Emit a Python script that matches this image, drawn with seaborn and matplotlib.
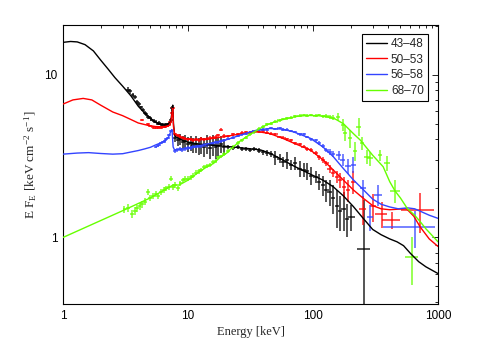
import numpy as np
import pandas as pd
import matplotlib
matplotlib.use("Agg")
import matplotlib.pyplot as plt
import matplotlib.ticker as mticker
import seaborn as sns

# ---- model curves (energy keV, E*F_E) ----
black_model_e = [1.0, 1.15, 1.3, 1.5, 1.75, 2.0, 2.3, 2.6, 3.0, 3.5, 4.0, 4.5, 5.0, 5.5, 6.0, 6.5,
                 7.0, 7.3, 7.45, 7.55, 7.65, 7.8, 8.0, 9.0, 10, 12, 15, 20, 25, 30, 38, 45, 57, 70,
                 95, 120, 145, 175, 210, 250, 300, 350, 410, 470, 530, 600, 700, 800, 1000]
black_model_f = [15.8, 16.0, 15.9, 15.3, 14.0, 12.3, 10.8, 9.6, 8.5, 7.4, 6.4, 5.8, 5.4, 5.1, 4.95, 4.9,
                 4.95, 5.2, 6.0, 6.5, 5.0, 4.3, 4.15, 3.95, 3.85, 3.75, 3.7, 3.63, 3.57, 3.52, 3.45, 3.3, 3.0, 2.75,
                 2.45, 2.25, 2.05, 1.8, 1.55, 1.32, 1.12, 1.04, 0.98, 0.94, 0.89, 0.8, 0.71, 0.66, 0.60]

red_model_e = [1.0, 1.2, 1.45, 1.7, 2.0, 2.5, 3.0, 3.5, 4.0, 4.7, 5.5, 6.5, 7.0, 7.3, 7.45, 7.55, 7.65,
               7.8, 8.0, 9.0, 11, 14, 17, 20, 25, 30, 36, 45, 57, 70, 95, 120, 145, 175, 210, 250,
               300, 350, 410, 470, 560, 640, 720, 850, 1000]
red_model_f = [6.6, 7.0, 7.15, 7.0, 6.5, 5.9, 5.6, 5.3, 5.05, 4.9, 4.8, 4.78, 4.85, 5.1, 5.8, 6.2, 4.8,
               4.35, 4.25, 4.1, 3.97, 4.0, 4.1, 4.17, 4.3, 4.4, 4.47, 4.35, 4.07, 3.8, 3.45, 3.0, 2.6, 2.25, 1.96, 1.75,
               1.57, 1.5, 1.48, 1.49, 1.5, 1.35, 1.16, 0.98, 0.88]

blue_model_e = [1.0, 1.3, 1.6, 2.0, 2.5, 3.0, 3.5, 4.0, 4.5, 5.0, 5.5, 6.0, 6.5, 7.0, 7.3, 7.45, 7.6,
                7.8, 8.5, 10, 12, 15, 20, 25, 30, 36, 45, 57, 70, 95, 120, 145, 175, 210, 250, 300,
                350, 410, 480, 570, 650, 720, 850, 1000]
blue_model_f = [3.25, 3.3, 3.32, 3.28, 3.25, 3.27, 3.35, 3.42, 3.5, 3.58, 3.7, 3.8, 3.92, 4.15, 4.5, 4.6, 3.6,
                3.45, 3.48, 3.55, 3.65, 3.78, 3.97, 4.2, 4.4, 4.58, 4.67, 4.63, 4.45, 4.07, 3.6, 3.14, 2.65, 2.26, 1.98, 1.72,
                1.6, 1.54, 1.5, 1.52, 1.5, 1.45, 1.37, 1.31]

green_model_e = [1.0, 3.0, 5.0, 7.6, 8.5, 10, 12, 14, 16, 18, 20.4, 22, 26, 30, 35.5, 42, 50, 60, 75, 90,
                 110, 130, 150, 175, 210, 240, 300, 364, 411, 455, 500, 570, 650, 720, 800, 1000]
green_model_f = [1.0, 1.46, 1.75, 2.1, 2.1, 2.25, 2.5, 2.7, 2.85, 3.1, 3.3, 3.5, 3.9, 4.2, 4.55, 4.9, 5.15, 5.35, 5.55, 5.62,
                 5.6, 5.5, 5.35, 5.0, 4.35, 3.95, 3.2, 2.72, 2.2, 1.92, 1.75, 1.5, 1.37, 1.25, 1.13, 0.94]

# ---- data points: energy, flux, flux error, bin half-width (fraction of E) ----
black_e = [3.3, 3.45, 3.6, 3.75, 3.9, 4.05, 4.2, 4.35, 4.5, 4.65, 4.8, 4.95, 5.1, 5.3, 5.5, 5.7, 5.9, 6.1, 6.3,
           6.5, 6.7, 6.9, 7.1, 7.3, 7.5,
           7.9, 8.3, 8.7, 9.1, 9.5, 10.0, 10.5, 11.0, 11.6, 12.2, 12.8, 13.5, 14.2, 15.0, 15.8, 16.6, 17.5, 18.5, 19.5,
           21, 23, 25, 27, 29, 31.5, 34, 37, 40, 43, 46, 50, 54, 58, 62, 67, 72, 78, 84, 90, 97,
           105, 112, 120, 128, 136, 145, 155, 165, 176, 188, 203, 255]
black_f = [8.1, 7.9, 7.5, 7.3, 6.8, 6.6, 6.3, 6.1, 5.8, 5.7, 5.5, 5.45, 5.3, 5.2, 5.15, 5.0, 5.05, 4.95, 4.9,
           4.85, 4.95, 4.9, 5.0, 5.3, 6.2,
           4.1, 3.95, 4.0, 3.85, 3.9, 3.75, 3.8, 3.7, 3.75, 3.65, 3.7, 3.6, 3.75, 3.55, 3.7, 3.6, 3.65, 3.75, 3.6,
           3.6, 3.55, 3.6, 3.5, 3.5, 3.45, 3.5, 3.4, 3.35, 3.3, 3.25, 3.1, 3.05, 2.9, 3.0, 2.8, 2.85, 2.65, 2.6, 2.55, 2.4,
           2.35, 2.2, 2.1, 1.95, 1.9, 1.75, 1.55, 1.45, 1.5, 1.3, 1.34, 0.85]
black_ferr = [0.25, 0.25, 0.2, 0.2, 0.2, 0.2, 0.15, 0.15, 0.15, 0.15, 0.12, 0.12, 0.12, 0.12, 0.12, 0.12, 0.12, 0.12, 0.12,
              0.12, 0.12, 0.12, 0.12, 0.15, 0.2,
              0.25, 0.3, 0.3, 0.35, 0.35, 0.4, 0.4, 0.4, 0.45, 0.45, 0.45, 0.5, 0.5, 0.5, 0.55, 0.55, 0.5, 0.45, 0.4,
              0.1, 0.1, 0.1, 0.1, 0.1, 0.1, 0.12, 0.12, 0.12, 0.15, 0.15, 0.3, 0.2, 0.2, 0.35, 0.2, 0.25, 0.3, 0.25, 0.3, 0.3,
              0.2, 0.25, 0.3, 0.3, 0.35, 0.35, 0.4, 0.35, 0.4, 0.3, 0.25, 0.84]
black_ebin = [0.035] * 44 + [0.04] * 21 + [0.04] * 10 + [0.07, 0.12]

red_e = [4.3, 4.8, 5.0, 5.2, 5.4, 5.6, 5.8, 6.0, 6.2, 6.4, 6.6, 6.8, 7.0, 7.2, 7.4, 7.55,
         7.9, 8.3, 8.7, 9.1, 9.5, 10.0, 10.5, 11.0, 11.6, 12.2, 12.8, 13.5, 14.2, 15.0, 15.8, 16.6, 17.5, 18.5, 19.5,
         21, 23, 25, 27, 29, 31.5, 34, 37, 40, 43, 46, 50, 54, 58, 62, 67, 72, 78, 84, 90, 97,
         105, 112, 120, 128, 136, 145, 155, 165, 177, 190, 210, 250, 303, 354, 425, 718]
red_f = [5.3, 4.95, 4.85, 4.75, 4.7, 4.72, 4.75, 4.7, 4.75, 4.8, 4.8, 4.85, 4.9, 5.1, 5.8, 6.2,
         4.3, 4.25, 4.15, 4.1, 4.05, 4.0, 4.0, 3.95, 4.0, 3.95, 4.05, 4.0, 4.05, 4.1, 4.1, 4.15, 4.25, 4.6, 4.2,
         4.2, 4.3, 4.3, 4.4, 4.45, 4.4, 4.5, 4.45, 4.5, 4.4, 4.35, 4.3, 4.15, 4.1, 4.0, 3.95, 3.8, 3.75, 3.6, 3.5, 3.45,
         3.3, 3.1, 3.0, 2.85, 2.65, 2.5, 2.35, 2.25, 2.05, 1.95, 2.2, 1.5, 1.55, 1.4, 1.28, 1.47]
red_ferr = [0.08] * 16 + [0.1] * 19 + [0.08] * 21 + \
           [0.1, 0.1, 0.12, 0.12, 0.15, 0.15, 0.2, 0.25, 0.3, 0.3, 0.35, 0.3, 0.3, 0.25, 0.15, 0.4]
red_ebin = [0.035] * 35 + [0.04] * 21 + [0.04] * 10 + [0.05, 0.06, 0.055, 0.11, 0.16, 0.3]

blue_e = [5.5, 5.7, 5.9, 6.1, 6.3, 6.5, 6.7, 6.9, 7.1, 7.3,
          7.8, 8.2, 8.6, 9.0, 9.5, 10.0, 10.5, 11.0, 11.6, 12.2, 12.8, 13.5, 14.2, 15.0, 15.8, 16.6, 17.5, 18.5, 19.5,
          21, 23, 25, 27, 29, 31.5, 34, 37, 40, 43, 46, 50, 54, 58, 62, 67, 72, 78, 84, 90, 97,
          105, 112, 120, 128, 136, 145, 160, 173, 190, 210, 252, 285, 333, 655]
blue_f = [3.6, 3.65, 3.7, 3.8, 3.85, 3.9, 4.0, 4.1, 4.25, 4.5,
          3.4, 3.45, 3.5, 3.45, 3.5, 3.55, 3.55, 3.6, 3.6, 3.65, 3.65, 3.7, 3.7, 3.75, 3.8, 3.85, 3.85, 3.9, 3.95,
          4.05, 4.1, 4.2, 4.3, 4.35, 4.4, 4.5, 4.55, 4.6, 4.6, 4.7, 4.65, 4.7, 4.6, 4.6, 4.5, 4.45, 4.3, 4.3, 4.15, 4.0,
          3.95, 3.8, 3.65, 3.45, 3.35, 3.25, 3.2, 3.0, 2.75, 2.8, 2.0, 1.34, 1.82, 1.16]
blue_ferr = [0.07] * 10 + [0.08] * 19 + [0.08] * 21 + \
            [0.1, 0.1, 0.12, 0.12, 0.15, 0.15, 0.2, 0.25, 0.3, 0.3, 0.25, 0.25, 0.27, 0.3]
blue_ebin = [0.035] * 29 + [0.04] * 21 + [0.04] * 6 + [0.05, 0.05, 0.05, 0.05, 0.06, 0.06, 0.07, 0.45]

green_e = [3.1, 3.3, 3.55, 3.75, 3.9, 4.1, 4.3, 4.5, 4.8, 5.0, 5.25, 5.5, 5.8, 6.1, 6.4, 6.7, 7.0, 7.3, 7.6,
           7.9, 8.3, 8.7, 9.1, 9.5, 10.0,
           10.5, 11.0, 11.6, 12.2, 12.8, 13.5, 14.2, 15.0, 15.8, 16.6, 17.5, 18.5, 19.5,
           21, 23, 25, 27, 29, 31.5, 34, 37, 40, 43, 46, 50, 54, 58, 62, 67, 72, 78, 84, 90, 97,
           105, 112, 120, 128, 136, 145, 158, 174, 181, 197, 216, 232, 246, 270, 285, 345, 390, 455, 617]
green_f = [1.49, 1.52, 1.39, 1.45, 1.51, 1.55, 1.6, 1.66, 1.91, 1.75, 1.8, 1.85, 1.8, 1.9, 1.95, 2.0, 2.05, 2.3, 2.05,
           2.1, 2.0, 2.15, 2.25, 2.3, 2.3,
           2.35, 2.4, 2.5, 2.55, 2.6, 2.7, 2.75, 2.8, 2.9, 2.95, 3.1, 3.15, 3.25,
           3.4, 3.6, 3.8, 3.95, 4.1, 4.3, 4.45, 4.65, 4.8, 4.95, 5.0, 5.15, 5.25, 5.35, 5.4, 5.45, 5.55, 5.6, 5.65, 5.6, 5.65,
           5.6, 5.65, 5.55, 5.6, 5.5, 5.45, 5.5, 4.92, 4.37, 4.07, 3.4, 4.8, 3.8, 3.14, 3.06, 3.21, 2.85, 1.94, 0.76]
green_ferr = [0.08] * 25 + [0.08] * 13 + [0.1] * 21 + \
             [0.1, 0.1, 0.12, 0.15, 0.15, 0.2, 0.3, 0.4, 0.45, 0.5, 0.45, 0.6, 0.35, 0.3, 0.3, 0.25, 0.3, 0.32, 0.25]
green_ebin = [0.035] * 38 + [0.04] * 21 + [0.04] * 6 + \
             [0.04, 0.04, 0.04, 0.04, 0.04, 0.04, 0.04, 0.05, 0.05, 0.04, 0.06, 0.1, 0.12]

labels = ['43–48', '50–53', '56–58', '68–70']
colors = ['#000000', '#ff0000', '#3344ff', '#66ff00']

models = [(black_model_e, black_model_f), (red_model_e, red_model_f),
          (blue_model_e, blue_model_f), (green_model_e, green_model_f)]
points = [(black_e, black_f, black_ferr, black_ebin), (red_e, red_f, red_ferr, red_ebin),
          (blue_e, blue_f, blue_ferr, blue_ebin), (green_e, green_f, green_ferr, green_ebin)]

sns.set_style("white")
plt.rcParams['font.family'] = ['Liberation Sans', 'DejaVu Sans']
plt.rcParams['mathtext.fontset'] = 'custom'
plt.rcParams['mathtext.rm'] = 'Liberation Serif'
plt.rcParams['mathtext.it'] = 'Liberation Serif:italic'

fig = plt.figure(figsize=(4.84, 3.43), dpi=100)
ax = fig.add_axes([0.1302, 0.1137, 0.7748, 0.8134])
ax.set_xscale('log')
ax.set_yscale('log')

# data crosses
for (e, f, ferr, ebin), c in zip(points, colors):
    e = np.array(e)
    f = np.array(f)
    ferr = np.array(ferr)
    ebin = np.array(ebin)
    xerr = [e * ebin, e * ebin]
    lo = np.minimum(ferr, f * 0.999)
    ax.errorbar(e, f, xerr=xerr, yerr=[lo, ferr], fmt='none', ecolor=c,
                elinewidth=1.1, capsize=0, alpha=0.85, zorder=2)

# model lines
frames = []
for (e, f), lab in zip(models, labels):
    frames.append(pd.DataFrame({'Energy': e, 'Flux': f, 'Phase': lab}))
df = pd.concat(frames, ignore_index=True)
sns.lineplot(data=df, x='Energy', y='Flux', hue='Phase', palette=colors,
             estimator=None, sort=True, linewidth=1.0, ax=ax, zorder=3)

ax.set_xlim(1, 1000)
ax.set_ylim(0.39, 20.2)

ax.xaxis.set_major_formatter(mticker.FuncFormatter(lambda v, p: f'{v:g}'))
ax.yaxis.set_major_formatter(mticker.FuncFormatter(lambda v, p: f'{v:g}'))
ax.xaxis.set_minor_formatter(mticker.NullFormatter())
ax.yaxis.set_minor_formatter(mticker.NullFormatter())
ax.tick_params(which='both', direction='in', top=True, right=True, labelsize=8.5, colors='black')
ax.tick_params(which='major', length=4, width=0.6, pad=4)
ax.tick_params(which='minor', length=2.5, width=0.6)
for s in ax.spines.values():
    s.set_color('black')
    s.set_linewidth(0.8)

ax.set_xlabel('Energy [keV]', family='Liberation Serif', fontsize=9, labelpad=3)
ax.set_ylabel(r'E F$_{\rm E}$ [keV cm$^{-2}$ s$^{-1}$]', family='Liberation Serif', fontsize=9.5, labelpad=4)

leg = ax.legend(loc='upper right', bbox_to_anchor=(0.973, 0.968), borderaxespad=0,
                fontsize=8.5, frameon=True, fancybox=False, edgecolor='black', framealpha=1,
                handlelength=1.8, handletextpad=0.3, labelspacing=0.3, borderpad=0.35)
leg.get_frame().set_linewidth(0.8)
for h in leg.get_lines():
    h.set_linewidth(1.0)

fig.savefig('out.png', dpi=100)
